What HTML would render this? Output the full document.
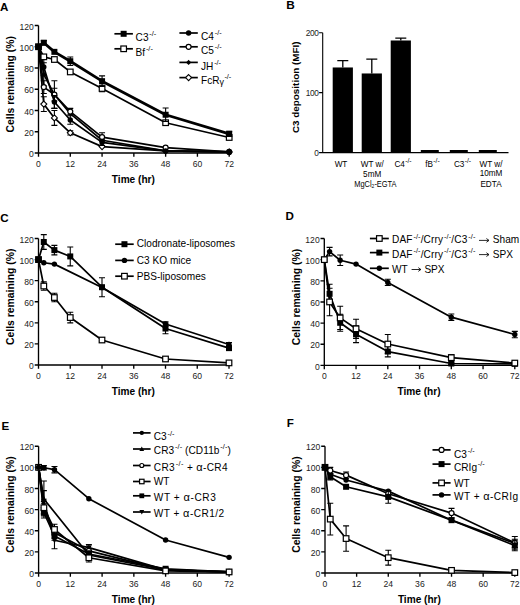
<!DOCTYPE html>
<html><head><meta charset="utf-8"><title>Figure</title>
<style>
html,body{margin:0;padding:0;background:#fff;width:520px;height:605px;overflow:hidden}
svg{display:block;font-family:"Liberation Sans", sans-serif}
</style></head><body>
<svg width="520" height="605" viewBox="0 0 520 605" font-family='"Liberation Sans", sans-serif'>
<rect width="520" height="605" fill="#fff"/>
<text x="0.1" y="11.4" font-size="11.6" font-weight="bold">A</text>
<path d="M38.5 25.5V153H229.2M34.7 153H38.5M34.7 131.75H38.5M34.7 110.5H38.5M34.7 89.25H38.5M34.7 68H38.5M34.7 46.75H38.5M34.7 25.5H38.5M38.5 153V156.8M70.28 153V156.8M102.07 153V156.8M133.85 153V156.8M165.63 153V156.8M197.42 153V156.8M229.2 153V156.8" stroke="#000" stroke-width="1.35" fill="none"/>
<text x="33.9" y="157.1" font-size="8.6" text-anchor="end" fill="#222">0</text>
<text x="33.9" y="135.85" font-size="8.6" text-anchor="end" fill="#222">20</text>
<text x="33.9" y="114.6" font-size="8.6" text-anchor="end" fill="#222">40</text>
<text x="33.9" y="93.35" font-size="8.6" text-anchor="end" fill="#222">60</text>
<text x="33.9" y="72.1" font-size="8.6" text-anchor="end" fill="#222">80</text>
<text x="33.9" y="50.85" font-size="8.6" text-anchor="end" fill="#222">100</text>
<text x="33.9" y="29.6" font-size="8.6" text-anchor="end" fill="#222">120</text>
<text x="38.5" y="166.7" font-size="8.6" text-anchor="middle" fill="#222">0</text>
<text x="70.28" y="166.7" font-size="8.6" text-anchor="middle" fill="#222">12</text>
<text x="102.07" y="166.7" font-size="8.6" text-anchor="middle" fill="#222">24</text>
<text x="133.85" y="166.7" font-size="8.6" text-anchor="middle" fill="#222">36</text>
<text x="165.63" y="166.7" font-size="8.6" text-anchor="middle" fill="#222">48</text>
<text x="197.42" y="166.7" font-size="8.6" text-anchor="middle" fill="#222">60</text>
<text x="229.2" y="166.7" font-size="8.6" text-anchor="middle" fill="#222">72</text>
<text x="133.35" y="182.9" font-size="10.1" font-weight="bold" text-anchor="middle">Time (hr)</text>
<text transform="translate(13.9 84.25) rotate(-90)" x="0" y="0" font-size="10.4" font-weight="bold" text-anchor="middle">Cells remaining (%)</text>
<path d="M38.5 46.75L43.8 104.12L54.39 117.94L70.28 132.81L102.07 146.62L165.63 150.88L229.2 151.94" stroke="#000" stroke-width="1.7" fill="none" stroke-linejoin="round"/>
<path d="M43.8 96.69V111.56M40.8 96.69H46.8M40.8 111.56H46.8M54.39 110.5V125.38M51.39 110.5H57.39M51.39 125.38H57.39M70.28 130.69V134.94M67.28 130.69H73.28M67.28 134.94H73.28" stroke="#000" stroke-width="1.1" fill="none"/>
<path d="M38.5 43.75L41.5 46.75L38.5 49.75L35.5 46.75Z" fill="#fff" stroke="#000" stroke-width="1.1"/>
<path d="M43.8 101.12L46.8 104.12L43.8 107.12L40.8 104.12Z" fill="#fff" stroke="#000" stroke-width="1.1"/>
<path d="M54.39 114.94L57.39 117.94L54.39 120.94L51.39 117.94Z" fill="#fff" stroke="#000" stroke-width="1.1"/>
<path d="M70.28 129.81L73.28 132.81L70.28 135.81L67.28 132.81Z" fill="#fff" stroke="#000" stroke-width="1.1"/>
<path d="M102.07 143.62L105.07 146.62L102.07 149.62L99.07 146.62Z" fill="#fff" stroke="#000" stroke-width="1.1"/>
<path d="M165.63 147.88L168.63 150.88L165.63 153.88L162.63 150.88Z" fill="#fff" stroke="#000" stroke-width="1.1"/>
<path d="M229.2 148.94L232.2 151.94L229.2 154.94L226.2 151.94Z" fill="#fff" stroke="#000" stroke-width="1.1"/>
<path d="M38.5 46.75L43.8 74.38L54.39 94.56L70.28 113.69L102.07 140.25L165.63 150.88L229.2 151.94" stroke="#000" stroke-width="1.7" fill="none" stroke-linejoin="round"/>
<path d="M43.8 62.69V86.06M40.8 62.69H46.8M40.8 86.06H46.8M54.39 80.75V108.38M51.39 80.75H57.39M51.39 108.38H57.39" stroke="#000" stroke-width="1.1" fill="none"/>
<path d="M38.5 44.15L41.1 46.75L38.5 49.35L35.9 46.75Z" fill="#000"/>
<path d="M43.8 71.78L46.4 74.38L43.8 76.97L41.2 74.38Z" fill="#000"/>
<path d="M54.39 91.96L56.99 94.56L54.39 97.16L51.79 94.56Z" fill="#000"/>
<path d="M70.28 111.09L72.88 113.69L70.28 116.29L67.68 113.69Z" fill="#000"/>
<path d="M102.07 137.65L104.67 140.25L102.07 142.85L99.47 140.25Z" fill="#000"/>
<path d="M165.63 148.28L168.23 150.88L165.63 153.47L163.03 150.88Z" fill="#000"/>
<path d="M229.2 149.34L231.8 151.94L229.2 154.54L226.6 151.94Z" fill="#000"/>
<path d="M38.5 46.75L43.8 87.12L54.39 94.56L70.28 111.56L102.07 137.06L165.63 147.69L229.2 151.94" stroke="#000" stroke-width="1.7" fill="none" stroke-linejoin="round"/>
<path d="M43.8 80.75V93.5M40.8 80.75H46.8M40.8 93.5H46.8M54.39 88.19V100.94M51.39 88.19H57.39M51.39 100.94H57.39M70.28 108.38V114.75M67.28 108.38H73.28M67.28 114.75H73.28M102.07 132.81V141.31M99.07 132.81H105.07M99.07 141.31H105.07" stroke="#000" stroke-width="1.1" fill="none"/>
<circle cx="38.5" cy="46.75" r="2.5" fill="#fff" stroke="#000" stroke-width="1.2"/>
<circle cx="43.8" cy="87.12" r="2.5" fill="#fff" stroke="#000" stroke-width="1.2"/>
<circle cx="54.39" cy="94.56" r="2.5" fill="#fff" stroke="#000" stroke-width="1.2"/>
<circle cx="70.28" cy="111.56" r="2.5" fill="#fff" stroke="#000" stroke-width="1.2"/>
<circle cx="102.07" cy="137.06" r="2.5" fill="#fff" stroke="#000" stroke-width="1.2"/>
<circle cx="165.63" cy="147.69" r="2.5" fill="#fff" stroke="#000" stroke-width="1.2"/>
<circle cx="229.2" cy="151.94" r="2.5" fill="#fff" stroke="#000" stroke-width="1.2"/>
<path d="M38.5 46.75L43.8 66.94L54.39 102L70.28 120.06L102.07 142.38L165.63 150.88L229.2 151.94" stroke="#000" stroke-width="1.7" fill="none" stroke-linejoin="round"/>
<path d="M43.8 58.44V75.44M40.8 58.44H46.8M40.8 75.44H46.8M54.39 95.62V108.38M51.39 95.62H57.39M51.39 108.38H57.39M70.28 115.81V124.31M67.28 115.81H73.28M67.28 124.31H73.28M102.07 139.19V145.56M99.07 139.19H105.07M99.07 145.56H105.07" stroke="#000" stroke-width="1.1" fill="none"/>
<circle cx="38.5" cy="46.75" r="2.7" fill="#000"/>
<circle cx="43.8" cy="66.94" r="2.7" fill="#000"/>
<circle cx="54.39" cy="102" r="2.7" fill="#000"/>
<circle cx="70.28" cy="120.06" r="2.7" fill="#000"/>
<circle cx="102.07" cy="142.38" r="2.7" fill="#000"/>
<circle cx="165.63" cy="150.88" r="2.7" fill="#000"/>
<circle cx="229.2" cy="151.94" r="2.7" fill="#000"/>
<path d="M38.5 46.75L43.8 56.84L54.39 59.5L70.28 71.93L102.07 88.51L165.63 122.72L229.2 137.49" stroke="#000" stroke-width="1.7" fill="none" stroke-linejoin="round"/>
<path d="M102.07 85.32V91.69M99.07 85.32H105.07M99.07 91.69H105.07" stroke="#000" stroke-width="1.1" fill="none"/>
<rect x="35.7" y="43.95" width="5.6" height="5.6" fill="#fff" stroke="#000" stroke-width="1.2"/>
<rect x="41" y="54.04" width="5.6" height="5.6" fill="#fff" stroke="#000" stroke-width="1.2"/>
<rect x="51.59" y="56.7" width="5.6" height="5.6" fill="#fff" stroke="#000" stroke-width="1.2"/>
<rect x="67.48" y="69.13" width="5.6" height="5.6" fill="#fff" stroke="#000" stroke-width="1.2"/>
<rect x="99.27" y="85.71" width="5.6" height="5.6" fill="#fff" stroke="#000" stroke-width="1.2"/>
<rect x="162.83" y="119.92" width="5.6" height="5.6" fill="#fff" stroke="#000" stroke-width="1.2"/>
<rect x="226.4" y="134.69" width="5.6" height="5.6" fill="#fff" stroke="#000" stroke-width="1.2"/>
<path d="M38.5 46.75L43.8 42.71L54.39 51.85L70.28 61.2L102.07 81.18L165.63 114.75L229.2 133.88" stroke="#000" stroke-width="2.8" fill="none" stroke-linejoin="round"/>
<path d="M43.8 40.59V44.84M40.8 40.59H46.8M40.8 44.84H46.8M70.28 56.95V65.45M67.28 56.95H73.28M67.28 65.45H73.28M102.07 75.86V86.49M99.07 75.86H105.07M99.07 86.49H105.07M165.63 107.95V121.55M162.63 107.95H168.63M162.63 121.55H168.63M229.2 131.22V136.53M226.2 131.22H232.2M226.2 136.53H232.2" stroke="#000" stroke-width="1.1" fill="none"/>
<rect x="35.5" y="43.75" width="6" height="6" fill="#000"/>
<rect x="40.8" y="39.71" width="6" height="6" fill="#000"/>
<rect x="51.39" y="48.85" width="6" height="6" fill="#000"/>
<rect x="67.28" y="58.2" width="6" height="6" fill="#000"/>
<rect x="99.07" y="78.18" width="6" height="6" fill="#000"/>
<rect x="162.63" y="111.75" width="6" height="6" fill="#000"/>
<rect x="226.2" y="130.88" width="6" height="6" fill="#000"/>
<path d="M114.4 33.8H132.9" stroke="#000" stroke-width="1.7"/>
<rect x="120.65" y="30.8" width="6" height="6" fill="#000"/>
<text x="135.6" y="40.8" font-size="10.1">C3<tspan font-size="7.3" dy="-4.9" dx="0.8">-/-</tspan></text>
<path d="M114.4 48.8H132.9" stroke="#000" stroke-width="1.7"/>
<rect x="120.85" y="46" width="5.6" height="5.6" fill="#fff" stroke="#000" stroke-width="1.2"/>
<text x="135.6" y="56" font-size="10.1">Bf<tspan font-size="7.3" dy="-4.9" dx="0.8">-/-</tspan></text>
<path d="M179.4 33H197.8" stroke="#000" stroke-width="1.7"/>
<circle cx="188.6" cy="33" r="2.7" fill="#000"/>
<text x="201" y="39.9" font-size="10.1">C4<tspan font-size="7.3" dy="-4.9" dx="0.8">-/-</tspan></text>
<path d="M179.4 46.8H197.8" stroke="#000" stroke-width="1.7"/>
<circle cx="188.6" cy="46.8" r="2.5" fill="#fff" stroke="#000" stroke-width="1.2"/>
<text x="201" y="53.7" font-size="10.1">C5<tspan font-size="7.3" dy="-4.9" dx="0.8">-/-</tspan></text>
<path d="M179.4 62.4H197.8" stroke="#000" stroke-width="1.7"/>
<path d="M188.6 59.8L191.2 62.4L188.6 65L186 62.4Z" fill="#000"/>
<text x="201" y="69.9" font-size="10.1">JH<tspan font-size="7.3" dy="-4.9" dx="0.8">-/-</tspan></text>
<path d="M179.4 77.6H197.8" stroke="#000" stroke-width="1.7"/>
<path d="M188.6 74.6L191.6 77.6L188.6 80.6L185.6 77.6Z" fill="#fff" stroke="#000" stroke-width="1.1"/>
<text x="201" y="83.7" font-size="10.1">FcR<tspan font-size="9" dy="1.4">γ</tspan><tspan font-size="7.3" dy="-6.3" dx="0.4">-/-</tspan></text>
<text x="286.3" y="8.5" font-size="11.8" font-weight="bold">B</text>
<path d="M322.7 32.7V152.6H508.5M319.1 152.6H322.7M319.1 92.65H322.7M319.1 32.7H322.7" stroke="#000" stroke-width="1.1" fill="none"/>
<text x="318.4" y="155.8" font-size="8.3" text-anchor="end" fill="#222" letter-spacing="-0.4">0</text>
<text x="318.4" y="95.85" font-size="8.3" text-anchor="end" fill="#222" letter-spacing="-0.4">100</text>
<text x="318.4" y="35.9" font-size="8.3" text-anchor="end" fill="#222" letter-spacing="-0.4">200</text>
<text transform="translate(298.8 87.3) rotate(-90)" font-size="9.9" font-weight="bold" text-anchor="middle">C3 deposition (MFI)</text>
<rect x="332.7" y="67.47" width="20.2" height="85.13" fill="#000"/>
<path d="M342.8 67.47V60.58M337.3 60.58H348.3" stroke="#000" stroke-width="1.3"/>
<rect x="361.7" y="73.47" width="20.2" height="79.13" fill="#000"/>
<path d="M371.8 73.47V59.08M366.3 59.08H377.3" stroke="#000" stroke-width="1.3"/>
<rect x="390.7" y="40.49" width="20.2" height="112.11" fill="#000"/>
<path d="M400.8 40.49V38.1M395.3 38.1H406.3" stroke="#000" stroke-width="1.3"/>
<rect x="420.8" y="150" width="18" height="2.6" fill="#000"/>
<rect x="449.8" y="150" width="18" height="2.6" fill="#000"/>
<rect x="478.8" y="150" width="18" height="2.6" fill="#000"/>
<text x="341" y="167.3" font-size="8.2" text-anchor="middle">WT</text>
<text x="372.2" y="167.3" font-size="8.2" text-anchor="middle">WT w/</text>
<text x="372.2" y="176.9" font-size="8.2" text-anchor="middle">5mM</text>
<text x="375.4" y="187.1" font-size="8.2" text-anchor="middle" textLength="42.3" lengthAdjust="spacingAndGlyphs">MgCl<tspan font-size="5.5" dy="1.2">2</tspan><tspan dy="-1.2">-EGTA</tspan></text>
<text x="403" y="166.9" font-size="8.2" text-anchor="middle">C4<tspan font-size="6.8" dy="-4.4" dx="0.3">-/-</tspan></text>
<text x="432.5" y="166.9" font-size="8.2" text-anchor="middle">fB<tspan font-size="6.8" dy="-4.4" dx="0.3">-/-</tspan></text>
<text x="462.5" y="166.9" font-size="8.2" text-anchor="middle">C3<tspan font-size="6.8" dy="-4.4" dx="0.3">-/-</tspan></text>
<text x="491" y="166.9" font-size="8.2" text-anchor="middle">WT w/</text>
<text x="491" y="176.3" font-size="8.2" text-anchor="middle">10mM</text>
<text x="491" y="186.5" font-size="8.2" text-anchor="middle">EDTA</text>
<text x="0.2" y="222.4" font-size="11.6" font-weight="bold">C</text>
<path d="M38.5 238.5V365H229M34.7 365H38.5M34.7 343.92H38.5M34.7 322.83H38.5M34.7 301.75H38.5M34.7 280.67H38.5M34.7 259.58H38.5M34.7 238.5H38.5M38.5 365V368.8M70.25 365V368.8M102 365V368.8M133.75 365V368.8M165.5 365V368.8M197.25 365V368.8M229 365V368.8" stroke="#000" stroke-width="1.35" fill="none"/>
<text x="33.9" y="369.1" font-size="8.6" text-anchor="end" fill="#222">0</text>
<text x="33.9" y="348.02" font-size="8.6" text-anchor="end" fill="#222">20</text>
<text x="33.9" y="326.93" font-size="8.6" text-anchor="end" fill="#222">40</text>
<text x="33.9" y="305.85" font-size="8.6" text-anchor="end" fill="#222">60</text>
<text x="33.9" y="284.77" font-size="8.6" text-anchor="end" fill="#222">80</text>
<text x="33.9" y="263.68" font-size="8.6" text-anchor="end" fill="#222">100</text>
<text x="33.9" y="242.6" font-size="8.6" text-anchor="end" fill="#222">120</text>
<text x="38.5" y="378.7" font-size="8.6" text-anchor="middle" fill="#222">0</text>
<text x="70.25" y="378.7" font-size="8.6" text-anchor="middle" fill="#222">12</text>
<text x="102" y="378.7" font-size="8.6" text-anchor="middle" fill="#222">24</text>
<text x="133.75" y="378.7" font-size="8.6" text-anchor="middle" fill="#222">36</text>
<text x="165.5" y="378.7" font-size="8.6" text-anchor="middle" fill="#222">48</text>
<text x="197.25" y="378.7" font-size="8.6" text-anchor="middle" fill="#222">60</text>
<text x="229" y="378.7" font-size="8.6" text-anchor="middle" fill="#222">72</text>
<text x="133.25" y="394.9" font-size="10.1" font-weight="bold" text-anchor="middle">Time (hr)</text>
<text transform="translate(13.9 296.75) rotate(-90)" x="0" y="0" font-size="10.4" font-weight="bold" text-anchor="middle">Cells remaining (%)</text>
<path d="M38.5 259.58L43.79 286.04L54.38 297.53L70.25 317.56L102 340.02L165.5 358.99L229 362.89" stroke="#000" stroke-width="1.7" fill="none" stroke-linejoin="round"/>
<path d="M43.79 281.83V290.26M40.79 281.83H46.79M40.79 290.26H46.79M54.38 293.32V301.75M51.38 293.32H57.38M51.38 301.75H57.38M70.25 312.29V322.83M67.25 312.29H73.25M67.25 322.83H73.25M102 337.91V342.12M99 337.91H105M99 342.12H105M165.5 357.41V360.57M162.5 357.41H168.5M162.5 360.57H168.5M229 361.31V364.47M226 361.31H232M226 364.47H232" stroke="#000" stroke-width="1.1" fill="none"/>
<rect x="35.7" y="256.78" width="5.6" height="5.6" fill="#fff" stroke="#000" stroke-width="1.2"/>
<rect x="40.99" y="283.24" width="5.6" height="5.6" fill="#fff" stroke="#000" stroke-width="1.2"/>
<rect x="51.58" y="294.73" width="5.6" height="5.6" fill="#fff" stroke="#000" stroke-width="1.2"/>
<rect x="67.45" y="314.76" width="5.6" height="5.6" fill="#fff" stroke="#000" stroke-width="1.2"/>
<rect x="99.2" y="337.22" width="5.6" height="5.6" fill="#fff" stroke="#000" stroke-width="1.2"/>
<rect x="162.7" y="356.19" width="5.6" height="5.6" fill="#fff" stroke="#000" stroke-width="1.2"/>
<rect x="226.2" y="360.09" width="5.6" height="5.6" fill="#fff" stroke="#000" stroke-width="1.2"/>
<path d="M38.5 259.58L43.79 262.75L54.38 264.12L102 287.52L165.5 323.99L229 344.55" stroke="#000" stroke-width="1.7" fill="none" stroke-linejoin="round"/>
<path d="M165.5 321.88V326.1M162.5 321.88H168.5M162.5 326.1H168.5M229 342.44V346.66M226 342.44H232M226 346.66H232" stroke="#000" stroke-width="1.1" fill="none"/>
<circle cx="38.5" cy="259.58" r="2.7" fill="#000"/>
<circle cx="43.79" cy="262.75" r="2.7" fill="#000"/>
<circle cx="54.38" cy="264.12" r="2.7" fill="#000"/>
<circle cx="102" cy="287.52" r="2.7" fill="#000"/>
<circle cx="165.5" cy="323.99" r="2.7" fill="#000"/>
<circle cx="229" cy="344.55" r="2.7" fill="#000"/>
<path d="M38.5 259.58L43.79 241.98L54.38 250.1L70.25 256.42L102 287.2L165.5 328.53L229 348.13" stroke="#000" stroke-width="1.7" fill="none" stroke-linejoin="round"/>
<path d="M43.79 234.6V249.36M40.79 234.6H46.79M40.79 249.36H46.79M54.38 245.35V254.84M51.38 245.35H57.38M51.38 254.84H57.38M70.25 246.93V265.91M67.25 246.93H73.25M67.25 265.91H73.25M102 277.72V296.69M99 277.72H105M99 296.69H105M165.5 323.25V333.8M162.5 323.25H168.5M162.5 333.8H168.5M229 346.02V350.24M226 346.02H232M226 350.24H232" stroke="#000" stroke-width="1.1" fill="none"/>
<rect x="35.5" y="256.58" width="6" height="6" fill="#000"/>
<rect x="40.79" y="238.98" width="6" height="6" fill="#000"/>
<rect x="51.38" y="247.1" width="6" height="6" fill="#000"/>
<rect x="67.25" y="253.42" width="6" height="6" fill="#000"/>
<rect x="99" y="284.2" width="6" height="6" fill="#000"/>
<rect x="162.5" y="325.53" width="6" height="6" fill="#000"/>
<rect x="226" y="345.13" width="6" height="6" fill="#000"/>
<path d="M115.2 244.2H133.7" stroke="#000" stroke-width="1.7"/>
<rect x="121.45" y="241.2" width="6" height="6" fill="#000"/>
<text x="136.8" y="247.2" font-size="10.1">Clodronate-liposomes</text>
<path d="M115.2 260.4H133.7" stroke="#000" stroke-width="1.7"/>
<circle cx="124.45" cy="260.4" r="2.7" fill="#000"/>
<text x="136.8" y="263.8" font-size="10.1">C3 KO mice</text>
<path d="M115.2 276.2H133.7" stroke="#000" stroke-width="1.7"/>
<rect x="121.65" y="273.4" width="5.6" height="5.6" fill="#fff" stroke="#000" stroke-width="1.2"/>
<text x="136.8" y="279.6" font-size="10.1">PBS-liposomes</text>
<text x="285.6" y="220.1" font-size="11.6" font-weight="bold">D</text>
<path d="M324.3 238.5V365.4H514.8M320.5 365.4H324.3M320.5 344.25H324.3M320.5 323.1H324.3M320.5 301.95H324.3M320.5 280.8H324.3M320.5 259.65H324.3M320.5 238.5H324.3M324.3 365.4V369.2M356.05 365.4V369.2M387.8 365.4V369.2M419.55 365.4V369.2M451.3 365.4V369.2M483.05 365.4V369.2M514.8 365.4V369.2" stroke="#000" stroke-width="1.35" fill="none"/>
<text x="319.7" y="369.5" font-size="8.6" text-anchor="end" fill="#222">0</text>
<text x="319.7" y="348.35" font-size="8.6" text-anchor="end" fill="#222">20</text>
<text x="319.7" y="327.2" font-size="8.6" text-anchor="end" fill="#222">40</text>
<text x="319.7" y="306.05" font-size="8.6" text-anchor="end" fill="#222">60</text>
<text x="319.7" y="284.9" font-size="8.6" text-anchor="end" fill="#222">80</text>
<text x="319.7" y="263.75" font-size="8.6" text-anchor="end" fill="#222">100</text>
<text x="319.7" y="242.6" font-size="8.6" text-anchor="end" fill="#222">120</text>
<text x="324.3" y="379.1" font-size="8.6" text-anchor="middle" fill="#222">0</text>
<text x="356.05" y="379.1" font-size="8.6" text-anchor="middle" fill="#222">12</text>
<text x="387.8" y="379.1" font-size="8.6" text-anchor="middle" fill="#222">24</text>
<text x="419.55" y="379.1" font-size="8.6" text-anchor="middle" fill="#222">36</text>
<text x="451.3" y="379.1" font-size="8.6" text-anchor="middle" fill="#222">48</text>
<text x="483.05" y="379.1" font-size="8.6" text-anchor="middle" fill="#222">60</text>
<text x="514.8" y="379.1" font-size="8.6" text-anchor="middle" fill="#222">72</text>
<text x="419.05" y="395.3" font-size="10.1" font-weight="bold" text-anchor="middle">Time (hr)</text>
<text transform="translate(299.7 296.95) rotate(-90)" x="0" y="0" font-size="10.4" font-weight="bold" text-anchor="middle">Cells remaining (%)</text>
<path d="M324.3 259.65L329.59 293.81L340.18 322.78L356.05 334.2L387.8 351.55L451.3 363.5L514.8 363.81" stroke="#000" stroke-width="1.7" fill="none" stroke-linejoin="round"/>
<path d="M329.59 284.29V303.32M326.59 284.29H332.59M326.59 303.32H332.59M340.18 314.32V331.24M337.18 314.32H343.18M337.18 331.24H343.18M356.05 325.74V342.66M353.05 325.74H359.05M353.05 342.66H359.05M387.8 346.26V356.83M384.8 346.26H390.8M384.8 356.83H390.8M451.3 362.44V364.55M448.3 362.44H454.3M448.3 364.55H454.3" stroke="#000" stroke-width="1.1" fill="none"/>
<rect x="321.3" y="256.65" width="6" height="6" fill="#000"/>
<rect x="326.59" y="290.81" width="6" height="6" fill="#000"/>
<rect x="337.18" y="319.78" width="6" height="6" fill="#000"/>
<rect x="353.05" y="331.2" width="6" height="6" fill="#000"/>
<rect x="384.8" y="348.55" width="6" height="6" fill="#000"/>
<rect x="448.3" y="360.5" width="6" height="6" fill="#000"/>
<rect x="511.8" y="360.81" width="6" height="6" fill="#000"/>
<path d="M324.3 259.65L329.59 251.61L340.18 260.28L356.05 264.09L387.8 282.39L451.3 317.18L514.8 334.52" stroke="#000" stroke-width="1.7" fill="none" stroke-linejoin="round"/>
<path d="M329.59 247.38V255.84M326.59 247.38H332.59M326.59 255.84H332.59M340.18 255V265.57M337.18 255H343.18M337.18 265.57H343.18M387.8 279.21V285.56M384.8 279.21H390.8M384.8 285.56H390.8M451.3 314.01V320.35M448.3 314.01H454.3M448.3 320.35H454.3M514.8 331.35V337.69M511.8 331.35H517.8M511.8 337.69H517.8" stroke="#000" stroke-width="1.1" fill="none"/>
<circle cx="324.3" cy="259.65" r="2.7" fill="#000"/>
<circle cx="329.59" cy="251.61" r="2.7" fill="#000"/>
<circle cx="340.18" cy="260.28" r="2.7" fill="#000"/>
<circle cx="356.05" cy="264.09" r="2.7" fill="#000"/>
<circle cx="387.8" cy="282.39" r="2.7" fill="#000"/>
<circle cx="451.3" cy="317.18" r="2.7" fill="#000"/>
<circle cx="514.8" cy="334.52" r="2.7" fill="#000"/>
<path d="M324.3 259.65L329.59 301.95L340.18 317.92L356.05 328.81L387.8 344.04L451.3 357.68L514.8 363.07" stroke="#000" stroke-width="1.7" fill="none" stroke-linejoin="round"/>
<path d="M329.59 288.2V315.7M326.59 288.2H332.59M326.59 315.7H332.59M340.18 306.29V329.55M337.18 306.29H343.18M337.18 329.55H343.18M356.05 319.29V338.33M353.05 319.29H359.05M353.05 338.33H359.05M387.8 334.52V353.56M384.8 334.52H390.8M384.8 353.56H390.8M451.3 354.51V360.85M448.3 354.51H454.3M448.3 360.85H454.3M514.8 361.49V364.66M511.8 361.49H517.8M511.8 364.66H517.8" stroke="#000" stroke-width="1.1" fill="none"/>
<rect x="321.5" y="256.85" width="5.6" height="5.6" fill="#fff" stroke="#000" stroke-width="1.2"/>
<rect x="326.79" y="299.15" width="5.6" height="5.6" fill="#fff" stroke="#000" stroke-width="1.2"/>
<rect x="337.38" y="315.12" width="5.6" height="5.6" fill="#fff" stroke="#000" stroke-width="1.2"/>
<rect x="353.25" y="326.01" width="5.6" height="5.6" fill="#fff" stroke="#000" stroke-width="1.2"/>
<rect x="385" y="341.24" width="5.6" height="5.6" fill="#fff" stroke="#000" stroke-width="1.2"/>
<rect x="448.5" y="354.88" width="5.6" height="5.6" fill="#fff" stroke="#000" stroke-width="1.2"/>
<rect x="512" y="360.27" width="5.6" height="5.6" fill="#fff" stroke="#000" stroke-width="1.2"/>
<path d="M369.9 238.5H388.8" stroke="#000" stroke-width="1.7"/>
<rect x="376.55" y="235.7" width="5.6" height="5.6" fill="#fff" stroke="#000" stroke-width="1.2"/>
<text x="392" y="243.4" font-size="10.1" textLength="83.4">DAF<tspan font-size="7.3" dy="-4.9" dx="0.8">-/-</tspan><tspan dy="4.9">/Crry</tspan><tspan font-size="7.3" dy="-4.9" dx="0.8">-/-</tspan><tspan dy="4.9">/C3</tspan><tspan font-size="7.3" dy="-4.9" dx="0.8">-/-</tspan></text>
<path d="M479 240.4H489M486.4 238.5L489 240.4L486.4 242.3" stroke="#111" stroke-width="0.9" fill="none"/>
<text x="492.8" y="243.4" font-size="10.1">Sham</text>
<path d="M369.9 252.6H388.8" stroke="#000" stroke-width="1.7"/>
<rect x="376.35" y="249.6" width="6" height="6" fill="#000"/>
<text x="392" y="257.6" font-size="10.1" textLength="83.4">DAF<tspan font-size="7.3" dy="-4.9" dx="0.8">-/-</tspan><tspan dy="4.9">/Crry</tspan><tspan font-size="7.3" dy="-4.9" dx="0.8">-/-</tspan><tspan dy="4.9">/C3</tspan><tspan font-size="7.3" dy="-4.9" dx="0.8">-/-</tspan></text>
<path d="M479 254.6H489M486.4 252.7L489 254.6L486.4 256.5" stroke="#111" stroke-width="0.9" fill="none"/>
<text x="492.8" y="257.6" font-size="10.1">SPX</text>
<path d="M369.9 268.3H388.8" stroke="#000" stroke-width="1.7"/>
<circle cx="379.35" cy="268.3" r="2.7" fill="#000"/>
<text x="392" y="272.6" font-size="10.1">WT</text>
<path d="M411.6 269.5H420.9M418.3 267.6L420.9 269.5L418.3 271.4" stroke="#111" stroke-width="0.9" fill="none"/>
<text x="424.4" y="272.6" font-size="10.1">SPX</text>
<text x="1.4" y="429.6" font-size="11.6" font-weight="bold">E</text>
<path d="M38.6 446.2V573H229.1M34.8 573H38.6M34.8 551.87H38.6M34.8 530.73H38.6M34.8 509.6H38.6M34.8 488.47H38.6M34.8 467.33H38.6M34.8 446.2H38.6M38.6 573V576.8M70.35 573V576.8M102.1 573V576.8M133.85 573V576.8M165.6 573V576.8M197.35 573V576.8M229.1 573V576.8" stroke="#000" stroke-width="1.35" fill="none"/>
<text x="34" y="577.1" font-size="8.6" text-anchor="end" fill="#222">0</text>
<text x="34" y="555.97" font-size="8.6" text-anchor="end" fill="#222">20</text>
<text x="34" y="534.83" font-size="8.6" text-anchor="end" fill="#222">40</text>
<text x="34" y="513.7" font-size="8.6" text-anchor="end" fill="#222">60</text>
<text x="34" y="492.57" font-size="8.6" text-anchor="end" fill="#222">80</text>
<text x="34" y="471.43" font-size="8.6" text-anchor="end" fill="#222">100</text>
<text x="34" y="450.3" font-size="8.6" text-anchor="end" fill="#222">120</text>
<text x="38.6" y="586.7" font-size="8.6" text-anchor="middle" fill="#222">0</text>
<text x="70.35" y="586.7" font-size="8.6" text-anchor="middle" fill="#222">12</text>
<text x="102.1" y="586.7" font-size="8.6" text-anchor="middle" fill="#222">24</text>
<text x="133.85" y="586.7" font-size="8.6" text-anchor="middle" fill="#222">36</text>
<text x="165.6" y="586.7" font-size="8.6" text-anchor="middle" fill="#222">48</text>
<text x="197.35" y="586.7" font-size="8.6" text-anchor="middle" fill="#222">60</text>
<text x="229.1" y="586.7" font-size="8.6" text-anchor="middle" fill="#222">72</text>
<text x="133.35" y="602.9" font-size="10.1" font-weight="bold" text-anchor="middle">Time (hr)</text>
<text transform="translate(14 504.6) rotate(-90)" x="0" y="0" font-size="10.4" font-weight="bold" text-anchor="middle">Cells remaining (%)</text>
<path d="M38.6 467.33L43.89 499.03L88.87 555.04L165.6 569.83L229.1 571.94" stroke="#000" stroke-width="1.7" fill="none" stroke-linejoin="round"/>
<path d="M43.89 490.58V507.49M40.89 490.58H46.89M40.89 507.49H46.89" stroke="#000" stroke-width="1.1" fill="none"/>
<path d="M38.6 464.33L41.6 469.73L35.6 469.73Z" fill="#000"/>
<path d="M43.89 496.03L46.89 501.43L40.89 501.43Z" fill="#000"/>
<path d="M88.87 552.04L91.87 557.44L85.87 557.44Z" fill="#000"/>
<path d="M165.6 566.83L168.6 572.23L162.6 572.23Z" fill="#000"/>
<path d="M229.1 568.94L232.1 574.34L226.1 574.34Z" fill="#000"/>
<path d="M38.6 467.33L43.89 501.15L54.48 540.24L88.87 547.64L165.6 569.83L229.1 571.94" stroke="#000" stroke-width="1.7" fill="none" stroke-linejoin="round"/>
<path d="M43.89 481.07V513.83M40.89 481.07H46.89M40.89 513.83H46.89M54.48 534.96V548.7M51.48 534.96H57.48M51.48 548.7H57.48M88.87 544.47V550.81M85.87 544.47H91.87M85.87 550.81H91.87" stroke="#000" stroke-width="1.1" fill="none"/>
<path d="M38.6 470.33L41.6 464.93L35.6 464.93Z" fill="#000"/>
<path d="M43.89 504.15L46.89 498.75L40.89 498.75Z" fill="#000"/>
<path d="M54.48 543.24L57.48 537.84L51.48 537.84Z" fill="#000"/>
<path d="M88.87 550.64L91.87 545.24L85.87 545.24Z" fill="#000"/>
<path d="M165.6 572.83L168.6 567.43L162.6 567.43Z" fill="#000"/>
<path d="M229.1 574.94L232.1 569.54L226.1 569.54Z" fill="#000"/>
<path d="M38.6 467.33L43.89 509.6L54.48 532.85L88.87 550.81L165.6 569.83L229.1 571.94" stroke="#000" stroke-width="1.7" fill="none" stroke-linejoin="round"/>
<path d="M43.89 503.26V515.94M40.89 503.26H46.89M40.89 515.94H46.89" stroke="#000" stroke-width="1.1" fill="none"/>
<circle cx="38.6" cy="467.33" r="2.5" fill="#fff" stroke="#000" stroke-width="1.2"/>
<circle cx="43.89" cy="509.6" r="2.5" fill="#fff" stroke="#000" stroke-width="1.2"/>
<circle cx="54.48" cy="532.85" r="2.5" fill="#fff" stroke="#000" stroke-width="1.2"/>
<circle cx="88.87" cy="550.81" r="2.5" fill="#fff" stroke="#000" stroke-width="1.2"/>
<circle cx="165.6" cy="569.83" r="2.5" fill="#fff" stroke="#000" stroke-width="1.2"/>
<circle cx="229.1" cy="571.94" r="2.5" fill="#fff" stroke="#000" stroke-width="1.2"/>
<path d="M38.6 467.33L43.89 512.77L54.48 536.02L88.87 553.98L165.6 568.77L229.1 571.94" stroke="#000" stroke-width="1.7" fill="none" stroke-linejoin="round"/>
<path d="M43.89 507.49V518.05M40.89 507.49H46.89M40.89 518.05H46.89M54.48 531.79V540.24M51.48 531.79H57.48M51.48 540.24H57.48M88.87 550.81V557.15M85.87 550.81H91.87M85.87 557.15H91.87" stroke="#000" stroke-width="1.1" fill="none"/>
<rect x="35.6" y="464.33" width="6" height="6" fill="#000"/>
<rect x="40.89" y="509.77" width="6" height="6" fill="#000"/>
<rect x="51.48" y="533.02" width="6" height="6" fill="#000"/>
<rect x="85.87" y="550.98" width="6" height="6" fill="#000"/>
<rect x="162.6" y="565.77" width="6" height="6" fill="#000"/>
<rect x="226.1" y="568.94" width="6" height="6" fill="#000"/>
<path d="M38.6 467.33L43.89 507.7L54.48 529.47L88.87 557.78L165.6 570.89L229.1 571.94" stroke="#000" stroke-width="1.7" fill="none" stroke-linejoin="round"/>
<path d="M43.89 501.36V514.04M40.89 501.36H46.89M40.89 514.04H46.89M54.48 524.18V534.75M51.48 524.18H57.48M51.48 534.75H57.48M88.87 553.56V562.01M85.87 553.56H91.87M85.87 562.01H91.87" stroke="#000" stroke-width="1.1" fill="none"/>
<rect x="35.8" y="464.53" width="5.6" height="5.6" fill="#fff" stroke="#000" stroke-width="1.2"/>
<rect x="41.09" y="504.9" width="5.6" height="5.6" fill="#fff" stroke="#000" stroke-width="1.2"/>
<rect x="51.68" y="526.67" width="5.6" height="5.6" fill="#fff" stroke="#000" stroke-width="1.2"/>
<rect x="86.07" y="554.98" width="5.6" height="5.6" fill="#fff" stroke="#000" stroke-width="1.2"/>
<rect x="162.8" y="568.09" width="5.6" height="5.6" fill="#fff" stroke="#000" stroke-width="1.2"/>
<rect x="226.3" y="569.14" width="5.6" height="5.6" fill="#fff" stroke="#000" stroke-width="1.2"/>
<path d="M38.6 467.33L43.89 467.76L54.48 469.66L88.87 498.72L165.6 540.03L229.1 557.36" stroke="#000" stroke-width="1.7" fill="none" stroke-linejoin="round"/>
<path d="M43.89 465.64V469.87M40.89 465.64H46.89M40.89 469.87H46.89M54.48 466.49V472.83M51.48 466.49H57.48M51.48 472.83H57.48" stroke="#000" stroke-width="1.1" fill="none"/>
<circle cx="38.6" cy="467.33" r="2.7" fill="#000"/>
<circle cx="43.89" cy="467.76" r="2.7" fill="#000"/>
<circle cx="54.48" cy="469.66" r="2.7" fill="#000"/>
<circle cx="88.87" cy="498.72" r="2.7" fill="#000"/>
<circle cx="165.6" cy="540.03" r="2.7" fill="#000"/>
<circle cx="229.1" cy="557.36" r="2.7" fill="#000"/>
<path d="M133 432.9H150.6" stroke="#000" stroke-width="1.7"/>
<circle cx="141.8" cy="432.9" r="2.16" fill="#000"/>
<text x="153.8" y="440.4" font-size="10.1">C3<tspan font-size="7.3" dy="-4.9" dx="0.8">-/-</tspan></text>
<path d="M133 449H150.6" stroke="#000" stroke-width="1.7"/>
<path d="M141.8 446.6L144.2 450.92L139.4 450.92Z" fill="#000"/>
<text x="153.8" y="454.3" font-size="10.1" textLength="77">CR3<tspan font-size="7.3" dy="-4.9" dx="0.8">-/-</tspan><tspan dy="4.9"> (CD11b</tspan><tspan font-size="7.3" dy="-4.9" dx="0.8">-/-</tspan><tspan dy="4.9">)</tspan></text>
<path d="M133 465.5H150.6" stroke="#000" stroke-width="1.7"/>
<circle cx="141.8" cy="465.5" r="2" fill="#fff" stroke="#000" stroke-width="1.2"/>
<text x="153.8" y="470.7" font-size="10.1" textLength="73.8">CR3<tspan font-size="7.3" dy="-4.9" dx="0.8">-/-</tspan><tspan dy="4.9"> + </tspan><tspan font-size="11">α</tspan>-CR4</text>
<path d="M133 481.5H150.6" stroke="#000" stroke-width="1.7"/>
<rect x="139.56" y="479.26" width="4.48" height="4.48" fill="#fff" stroke="#000" stroke-width="1.2"/>
<text x="153.8" y="485.2" font-size="10.1">WT</text>
<path d="M133 495.8H150.6" stroke="#000" stroke-width="1.7"/>
<rect x="139.4" y="493.4" width="4.8" height="4.8" fill="#000"/>
<text x="153.8" y="501.3" font-size="10.1" textLength="62">WT + <tspan font-size="11">α</tspan>-CR3</text>
<path d="M133 512H150.6" stroke="#000" stroke-width="1.7"/>
<path d="M141.8 514.4L144.2 510.08L139.4 510.08Z" fill="#000"/>
<text x="153.8" y="517.4" font-size="10.1" textLength="70.4">WT + <tspan font-size="11">α</tspan>-CR1/2</text>
<text x="286.7" y="427.1" font-size="11.6" font-weight="bold">F</text>
<path d="M325 446.2V573H514.8M321.2 573H325M321.2 551.87H325M321.2 530.73H325M321.2 509.6H325M321.2 488.47H325M321.2 467.33H325M321.2 446.2H325M325 573V576.8M356.63 573V576.8M388.27 573V576.8M419.9 573V576.8M451.53 573V576.8M483.17 573V576.8M514.8 573V576.8" stroke="#000" stroke-width="1.35" fill="none"/>
<text x="320.4" y="577.1" font-size="8.6" text-anchor="end" fill="#222">0</text>
<text x="320.4" y="555.97" font-size="8.6" text-anchor="end" fill="#222">20</text>
<text x="320.4" y="534.83" font-size="8.6" text-anchor="end" fill="#222">40</text>
<text x="320.4" y="513.7" font-size="8.6" text-anchor="end" fill="#222">60</text>
<text x="320.4" y="492.57" font-size="8.6" text-anchor="end" fill="#222">80</text>
<text x="320.4" y="471.43" font-size="8.6" text-anchor="end" fill="#222">100</text>
<text x="320.4" y="450.3" font-size="8.6" text-anchor="end" fill="#222">120</text>
<text x="325" y="586.7" font-size="8.6" text-anchor="middle" fill="#222">0</text>
<text x="356.63" y="586.7" font-size="8.6" text-anchor="middle" fill="#222">12</text>
<text x="388.27" y="586.7" font-size="8.6" text-anchor="middle" fill="#222">24</text>
<text x="419.9" y="586.7" font-size="8.6" text-anchor="middle" fill="#222">36</text>
<text x="451.53" y="586.7" font-size="8.6" text-anchor="middle" fill="#222">48</text>
<text x="483.17" y="586.7" font-size="8.6" text-anchor="middle" fill="#222">60</text>
<text x="514.8" y="586.7" font-size="8.6" text-anchor="middle" fill="#222">72</text>
<text x="419.4" y="602.9" font-size="10.1" font-weight="bold" text-anchor="middle">Time (hr)</text>
<text transform="translate(300.4 504.6) rotate(-90)" x="0" y="0" font-size="10.4" font-weight="bold" text-anchor="middle">Cells remaining (%)</text>
<path d="M325 467.33L330.27 519.11L346.09 538.55L388.27 557.68L451.53 570.36L514.8 572.58" stroke="#000" stroke-width="1.7" fill="none" stroke-linejoin="round"/>
<path d="M330.27 503.26V534.96M327.27 503.26H333.27M327.27 534.96H333.27M346.09 525.87V551.23M343.09 525.87H349.09M343.09 551.23H349.09M388.27 550.28V565.08M385.27 550.28H391.27M385.27 565.08H391.27M451.53 568.77V571.94M448.53 568.77H454.53M448.53 571.94H454.53M514.8 571.52V573.63M511.8 571.52H517.8M511.8 573.63H517.8" stroke="#000" stroke-width="1.1" fill="none"/>
<rect x="322.2" y="464.53" width="5.6" height="5.6" fill="#fff" stroke="#000" stroke-width="1.2"/>
<rect x="327.47" y="516.31" width="5.6" height="5.6" fill="#fff" stroke="#000" stroke-width="1.2"/>
<rect x="343.29" y="535.75" width="5.6" height="5.6" fill="#fff" stroke="#000" stroke-width="1.2"/>
<rect x="385.47" y="554.88" width="5.6" height="5.6" fill="#fff" stroke="#000" stroke-width="1.2"/>
<rect x="448.73" y="567.56" width="5.6" height="5.6" fill="#fff" stroke="#000" stroke-width="1.2"/>
<rect x="512" y="569.78" width="5.6" height="5.6" fill="#fff" stroke="#000" stroke-width="1.2"/>
<path d="M325 467.33L330.27 474.2L346.09 480.01L388.27 491.11L451.53 520.17L514.8 543.41" stroke="#000" stroke-width="1.7" fill="none" stroke-linejoin="round"/>
<path d="M514.8 539.19V547.64M511.8 539.19H517.8M511.8 547.64H517.8" stroke="#000" stroke-width="1.1" fill="none"/>
<circle cx="325" cy="467.33" r="2.7" fill="#000"/>
<circle cx="330.27" cy="474.2" r="2.7" fill="#000"/>
<circle cx="346.09" cy="480.01" r="2.7" fill="#000"/>
<circle cx="388.27" cy="491.11" r="2.7" fill="#000"/>
<circle cx="451.53" cy="520.17" r="2.7" fill="#000"/>
<circle cx="514.8" cy="543.41" r="2.7" fill="#000"/>
<path d="M325 467.33L330.27 470.5L346.09 475.15L388.27 493.75L451.53 513.09L514.8 542.88" stroke="#000" stroke-width="1.7" fill="none" stroke-linejoin="round"/>
<path d="M330.27 467.33V473.67M327.27 467.33H333.27M327.27 473.67H333.27M346.09 471.98V478.32M343.09 471.98H349.09M343.09 478.32H349.09M388.27 490.58V496.92M385.27 490.58H391.27M385.27 496.92H391.27M451.53 508.33V517.84M448.53 508.33H454.53M448.53 517.84H454.53M514.8 536.54V549.23M511.8 536.54H517.8M511.8 549.23H517.8" stroke="#000" stroke-width="1.1" fill="none"/>
<circle cx="325" cy="467.33" r="2.5" fill="#fff" stroke="#000" stroke-width="1.2"/>
<circle cx="330.27" cy="470.5" r="2.5" fill="#fff" stroke="#000" stroke-width="1.2"/>
<circle cx="346.09" cy="475.15" r="2.5" fill="#fff" stroke="#000" stroke-width="1.2"/>
<circle cx="388.27" cy="493.75" r="2.5" fill="#fff" stroke="#000" stroke-width="1.2"/>
<circle cx="451.53" cy="513.09" r="2.5" fill="#fff" stroke="#000" stroke-width="1.2"/>
<circle cx="514.8" cy="542.88" r="2.5" fill="#fff" stroke="#000" stroke-width="1.2"/>
<path d="M325 467.33L330.27 476.84L346.09 486.78L388.27 496.92L451.53 520.17L514.8 545.53" stroke="#000" stroke-width="1.7" fill="none" stroke-linejoin="round"/>
<path d="M330.27 473.67V480.01M327.27 473.67H333.27M327.27 480.01H333.27M388.27 490.58V503.26M385.27 490.58H391.27M385.27 503.26H391.27M514.8 540.24V550.81M511.8 540.24H517.8M511.8 550.81H517.8" stroke="#000" stroke-width="1.1" fill="none"/>
<rect x="322" y="464.33" width="6" height="6" fill="#000"/>
<rect x="327.27" y="473.84" width="6" height="6" fill="#000"/>
<rect x="343.09" y="483.78" width="6" height="6" fill="#000"/>
<rect x="385.27" y="493.92" width="6" height="6" fill="#000"/>
<rect x="448.53" y="517.17" width="6" height="6" fill="#000"/>
<rect x="511.8" y="542.53" width="6" height="6" fill="#000"/>
<path d="M432.5 449.9H450.6" stroke="#000" stroke-width="1.7"/>
<circle cx="441.55" cy="449.9" r="2.5" fill="#fff" stroke="#000" stroke-width="1.2"/>
<text x="454" y="457.7" font-size="10.1">C3<tspan font-size="7.3" dy="-4.9" dx="0.8">-/-</tspan></text>
<path d="M432.5 464.1H450.6" stroke="#000" stroke-width="1.7"/>
<rect x="438.55" y="461.1" width="6" height="6" fill="#000"/>
<text x="454" y="471.2" font-size="10.1">CRIg<tspan font-size="7.3" dy="-4.9" dx="0.8">-/-</tspan></text>
<path d="M432.5 482.9H450.6" stroke="#000" stroke-width="1.7"/>
<rect x="438.75" y="480.1" width="5.6" height="5.6" fill="#fff" stroke="#000" stroke-width="1.2"/>
<text x="454" y="486.9" font-size="10.1">WT</text>
<path d="M432.5 494.9H450.6" stroke="#000" stroke-width="1.7"/>
<circle cx="441.55" cy="494.9" r="2.7" fill="#000"/>
<text x="454" y="500.4" font-size="10.1" textLength="64.2">WT + <tspan font-size="11">α</tspan>-CRIg</text>
</svg>
</body></html>
